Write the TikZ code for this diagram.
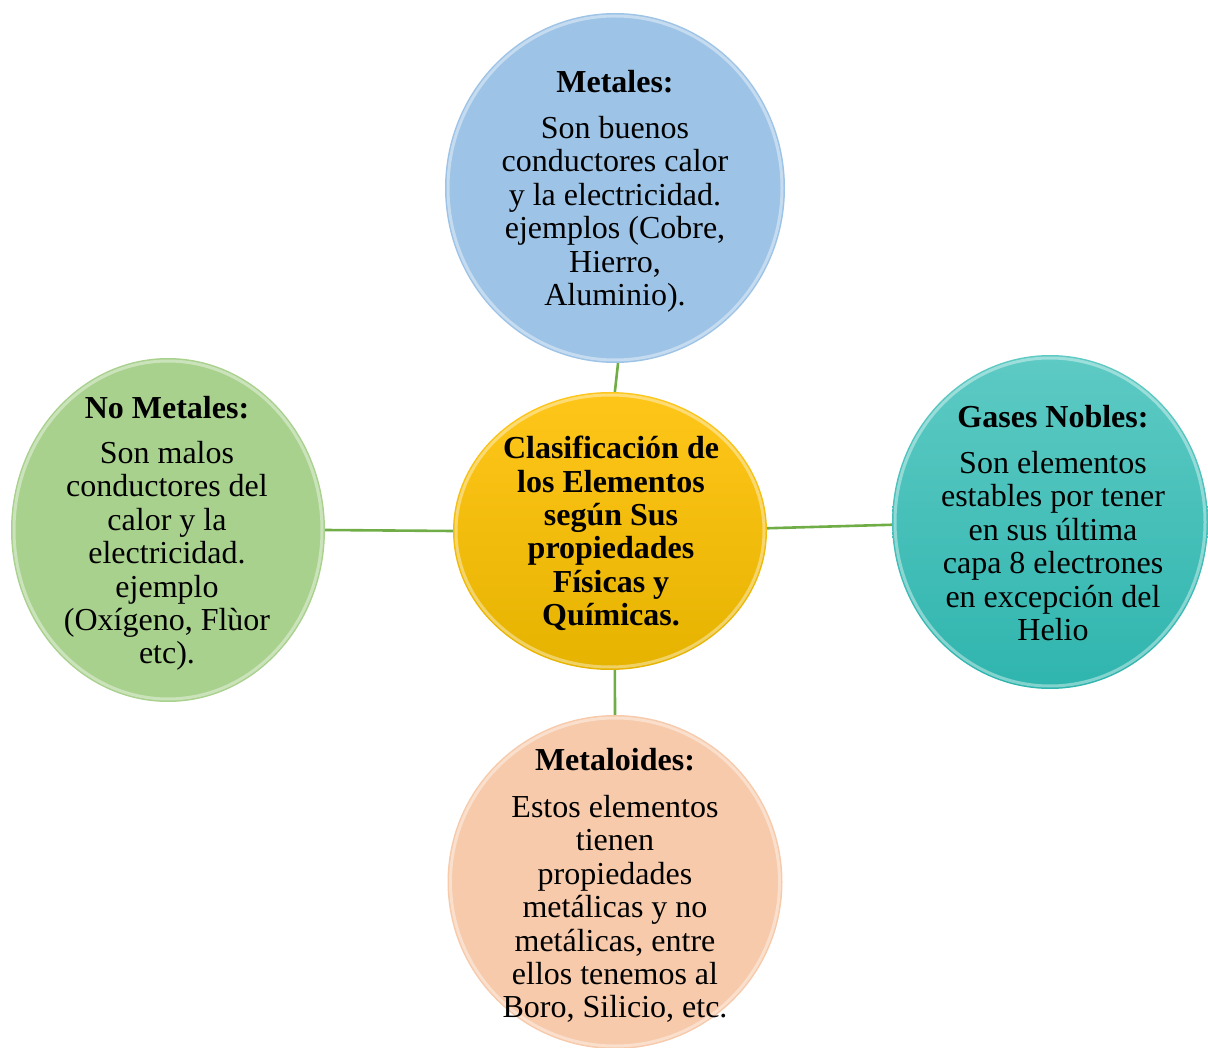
\documentclass[tikz,border=0pt]{standalone}
\usepackage{fontspec}
\setmainfont{Liberation Serif}
\usetikzlibrary{shapes.geometric,calc}

\definecolor{linkgreen}{HTML}{70AD47}
\definecolor{metblue}{HTML}{9DC3E6}
\definecolor{nonmetgreen}{HTML}{A9D18E}
\definecolor{tealtop}{HTML}{5ECAC4}
\definecolor{tealbot}{HTML}{2FB5AE}
\definecolor{goldtop}{HTML}{FFC61A}
\definecolor{goldbot}{HTML}{E6B300}
\definecolor{peach}{HTML}{F6CAAB}

\tikzset{
  bubble/.style={ellipse, inner sep=0pt, draw=none,
    path picture={
      \draw[white, opacity=.4, line width=3pt]
        let \p1=(path picture bounding box.north east),
            \p2=(path picture bounding box.center) in
        (\p2) ellipse [x radius=\x1-\x2-3pt, y radius=\y1-\y2-3pt];
    }},
  link/.style={draw=linkgreen, line width=2.6pt},
  txt/.style={align=center, anchor=north, inner sep=0pt,
    font=\fontsize{32}{33.4}\selectfont},
}

\begin{document}
\begin{tikzpicture}[x=1pt, y=-1pt]
\useasboundingbox (0,0) rectangle (1208,1048);

% bubbles
\node[bubble, minimum width=314pt, minimum height=278pt,
      top color=goldtop, bottom color=goldbot] (cen) at (610,531) {};
\node[bubble, minimum width=340pt, minimum height=350pt,
      fill=metblue] (met) at (615,188) {};
\node[bubble, minimum width=314pt, minimum height=344pt,
      fill=nonmetgreen] (nomet) at (168,530) {};
\node[bubble, minimum width=316pt, minimum height=334pt,
      top color=tealtop, bottom color=tealbot] (gas) at (1050,522) {};
\node[bubble, minimum width=335pt, minimum height=334pt,
      fill=peach] (loid) at (615,882) {};

% connectors
\draw[link] (met.271) -- (cen.88);
\draw[link] (nomet.east) -- (cen.west);
\draw[link] (cen.1) -- (gas.181);
\draw[link] (cen.272) -- (loid.north);

% texts
\node[txt, font=\fontsize{32}{33.4}\selectfont\bfseries] (cenT) at (611,436)
  {Clasificación de\\ los Elementos\\ según Sus\\ propiedades\\ Físicas y\\ Químicas.};
\node[txt] (metT) at (615,70) {\textbf{Metales:}\\[12.6pt] Son buenos\\ conductores calor\\ y la electricidad.\\ ejemplos (Cobre,\\ Hierro,\\ Aluminio).};
\node[txt] (nometT) at (167,396) {\textbf{No Metales:}\\[11.6pt] Son malos\\ conductores del\\ calor y la\\ electricidad.\\ ejemplo\\ (Oxígeno, Flùor\\ etc).};
\node[txt] (gasT) at (1053,405) {\textbf{Gases Nobles:}\\[12.6pt] Son elementos\\ estables por tener\\ en sus última\\ capa 8 electrones\\ en excepción del\\ Helio};
\node[txt] (loidT) at (615,748) {\textbf{Metaloides:}\\[13.6pt] Estos elementos\\ tienen\\ propiedades\\ metálicas y no\\ metálicas, entre\\ ellos tenemos al\\ Boro, Silicio, etc.};
\end{tikzpicture}
\end{document}
